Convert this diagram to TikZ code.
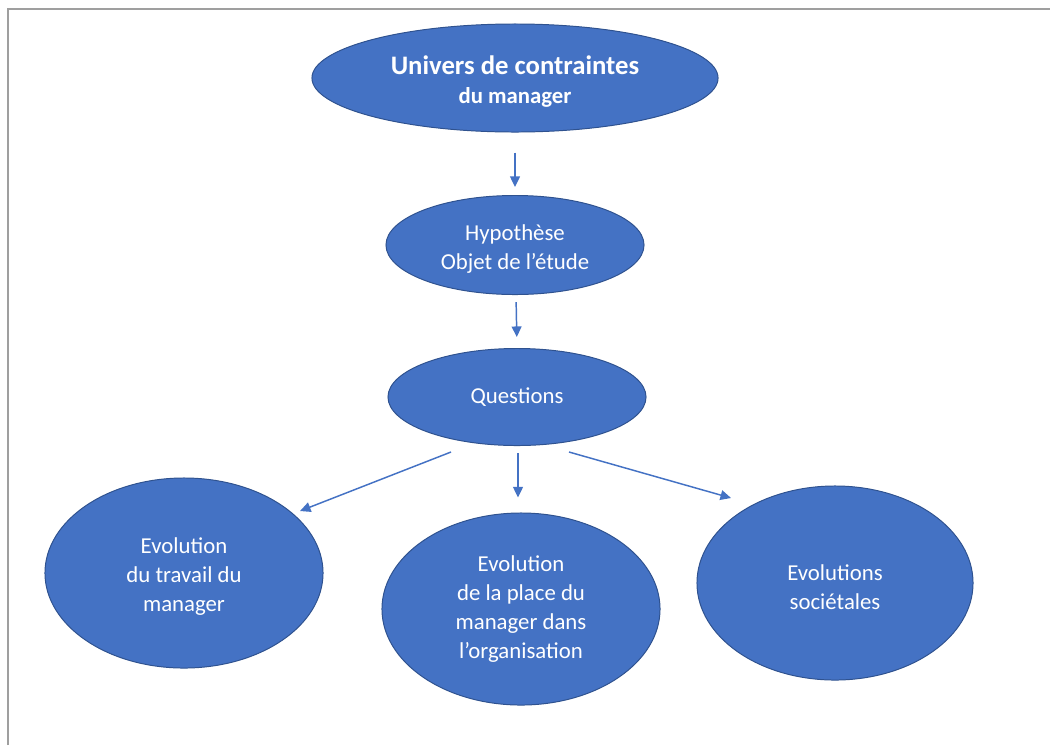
\documentclass[tikz,border=0pt]{standalone}
\usepackage{fontspec}
\setmainfont{Carlito}
\usepackage{tikz}
\usetikzlibrary{arrows.meta, shapes.geometric}

\definecolor{officeblue}{HTML}{4472C4}
\definecolor{officeline}{HTML}{2F528F}
\newcommand{\txt}{\fontsize{16.2}{20.6}\selectfont}
\newcommand{\txtlift}{\rule{0pt}{16.5pt}}

\begin{document}
\begin{tikzpicture}[x=0.025cm, y=-0.025cm]
\useasboundingbox (0,0) rectangle (1050,745);
\draw[gray!75, line width=1pt] (8,745) -- (8,9) -- (1050,9);

\begin{scope}[every node/.style={ellipse, fill=officeblue, draw=officeline,
              line width=0.7pt, text=white, align=center, inner sep=0pt,
              font=\txt}]
  \node[minimum width=10.15cm, minimum height=2.7cm, font=\txt\bfseries] (univers) at (515,78)
    {{\fontsize{19}{20.6}\selectfont\rule{0pt}{19pt}Univers de contraintes}\\ du manager};
  \node[minimum width=6.45cm, minimum height=2.475cm] (hypo) at (515,245)
    {\txtlift Hypothèse\\ Objet de l’étude};
  \node[minimum width=6.45cm, minimum height=2.425cm] (questions) at (517,397)
    {Questions};
  \node[minimum width=6.95cm, minimum height=4.75cm] (travail) at (184,573)
    {\txtlift Evolution\\ du travail du\\ manager};
  \node[minimum width=6.95cm, minimum height=4.8cm] (place) at (521,609)
    {Evolution\\ de la place du\\ manager dans\\ l’organisation};
  \node[minimum width=6.9cm, minimum height=4.85cm] (societe) at (835,583)
    {\txtlift Evolutions\\ sociétales};
\end{scope}

\begin{scope}[>={Triangle[length=7.5pt, width=7pt]},
              every edge/.style={draw=officeblue, line width=1.05pt}]
    \path[->] (univers.south) edge[shorten <=0.5cm, shorten >=0.2cm] (hypo.north);
    \path[->] ([shift={(1,0)}]hypo.south) edge[shorten <=0.175cm, shorten >=0.275cm] (questions.north);
    \path[->] ([shift={(-66,6)}]questions.south) edge ([shift={(116,-62)}]travail.center);
    \path[->] ([shift={(1,7)}]questions.south) edge ([shift={(-3,-15)}]place.north);
    \path[->] ([shift={(52,6)}]questions.south) edge ([shift={(-104,-85)}]societe.center);
\end{scope}
\end{tikzpicture}
\end{document}
